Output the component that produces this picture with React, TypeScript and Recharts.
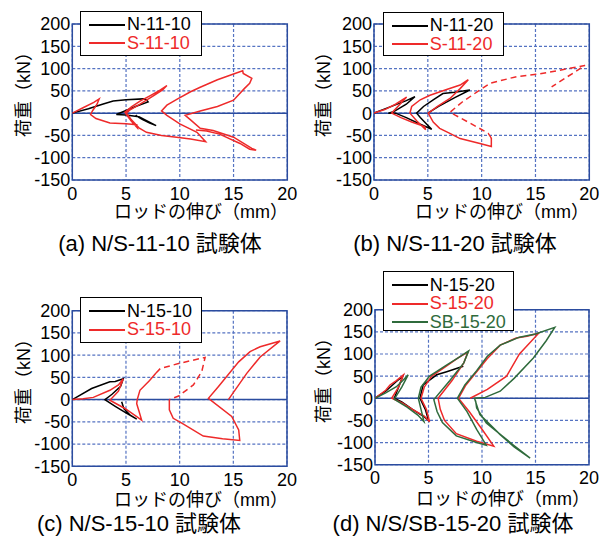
import React from "react";
import {CartesianGrid, Line, LineChart, ReferenceArea, ReferenceLine, XAxis, YAxis} from "recharts";

const FONT = '"Liberation Sans", "Noto Sans CJK JP", Arial, sans-serif';
const RED = "#ee2a2a";
const GREEN = "#2f6b3c";
const BLACK = "#000000";
const FRAME = "#2b4c9f";
const GRID = "#5573c2";

const xTicks = [0, 5, 10, 15, 20];
const yTicks = [-150, -100, -50, 0, 50, 100, 150, 200];
const xTitle = "ロッドの伸び（mm）";
const yTitle = "荷重（kN）";

// (a) N/S-11-10
const aN1110 = [[0, 0], [1.5, 10], [2.8, 20], [3.8, 27], [5, 30], [6.6, 32], [6.9, 30], [7.05, 25], [6, 16], [5, 6], [4.1, -3], [5, -4], [6.2, -8], [7, -18], [7.8, -28], [7.2, -22], [6.5, -14], [6, -7], [5.9, -4]];
const aS1110 = [[0, 0], [1, 12], [2, 24], [2.5, 32], [2.3, 20], [1.9, 6], [1.7, -3], [2.2, -12], [3.5, -22], [5, -24], [6, -26], [6.05, -33], [5.5, -18], [5.05, -4], [4.9, 2], [5.5, 14], [6.3, 27], [7.3, 40], [8.2, 52], [8.8, 62], [8.4, 52], [7.5, 38], [6.3, 20], [5.3, 6], [5.05, 0], [5.5, -15], [6.2, -33], [6.9, -43], [8.3, -50], [9.7, -54], [11, -58], [12.4, -64], [11.6, -43], [10, -24], [8.8, -5], [8.3, 5], [8.8, 18], [9.8, 32], [11, 48], [11.9, 58], [13.5, 75], [15, 88], [15.85, 95], [15.9, 89], [16.7, 78], [16.5, 67], [16, 55], [15, 29], [13.5, 15], [11.9, 5], [10.5, -5], [11, -15], [11.9, -34], [13.1, -39], [15, -54], [16.7, -79], [17.1, -83], [16.5, -81], [15.6, -68], [13.7, -47], [12.5, -40], [11.5, -38]];

// (b) N/S-11-20
const bN1120 = [[0, 0], [1.5, 14], [3, 28], [3.8, 37], [3, 20], [1.8, 3], [1.33, 0], [2, 0], [3, -10], [4.3, -25], [5.36, -36], [4.9, -25], [4.3, -10], [3.96, 0], [4.6, 15], [5.5, 30], [6.4, 44], [7.5, 47], [8.9, 52], [7.5, 35], [6, 15], [5, 0]];
const bS1120 = [[0, 0], [1, 8], [2, 20], [3.03, 36], [2.5, 22], [1.64, 0], [2.5, -10], [3.5, -20], [4.7, -30], [4.8, -37], [4, -18], [3.34, 0], [3.5, 15], [4.3, 30], [5.2, 40], [6.75, 53], [8, 63], [8.76, 75], [8, 55], [7.06, 33], [5.9, 15], [5.04, 0], [5.5, -20], [6.1, -34], [7, -45], [8, -57], [9.84, -68], [10.9, -75], [10.9, -56]];
const bS1120Dash = [[10.9, -56], [10.6, -45], [8.9, -22], [7.5, -4], [7.06, 2], [8.2, 25], [9.84, 52], [10.8, 67], [13.25, 82], [15.4, 88], [19.6, 107], [16.5, 59]];

// (c) N/S-15-10
const cN1510 = [[0, 0], [1.8, 25], [3.5, 40], [4, 41], [4.75, 47], [4.5, 30], [3.7, 12], [3.04, 0], [4, -15], [5, -30], [6, -44], [5.4, -35], [4.8, -20], [4.6, -5]];
const cS1510 = [[0, 0], [1, 2], [1.96, 5], [3.5, 21], [4.3, 33], [4.75, 47], [4.3, 19], [3.5, -1.5], [4.9, -20], [5.8, -35], [6.46, -46], [6.2, -25], [6, -9], [6.05, 0], [6.3, 21], [7.2, 43], [7.8, 60]];
const cS1510Dash = [[7.8, 60], [8.2, 70], [10.04, 82], [12.37, 95], [12.06, 63], [11.28, 33], [9.9, 8], [9.04, 0]];
const cS1510Tail = [[9.04, 0], [9.04, -23], [9.4, -42], [10.2, -53], [12.2, -82], [14, -88], [15.6, -92], [15.5, -68], [14.85, -38], [12.68, 3], [13.6, 29], [15.5, 85], [16.56, 108], [17.5, 119], [19.36, 132], [17.5, 96], [16.25, 59], [14.54, 0]];

// (d) N/S/SB-15-20
const dN1520 = [[0, 0], [1, 16], [2, 38], [2.6, 50], [2.2, 25], [1.8, 0], [2.5, -8], [3.5, -25], [4.6, -42], [5, -50], [4.7, -25], [4.2, 0], [4.5, 30], [5.76, 53], [6.7, 60], [8.1, 71], [8.26, 72]];
const dS1520 = [[0, 0], [1, 18], [1.4, 30], [2, 40], [2.65, 53], [2.2, 25], [1.56, 0], [2.5, -10], [3.5, -25], [4.6, -40], [5.1, -53], [4.8, -25], [4.3, 0], [4.6, 25], [5.3, 50], [6.5, 70], [7.7, 90], [8.7, 105], [8.3, 80], [7.2, 40], [5.9, 0], [6.1, -25], [6.5, -50], [7.6, -80], [9.5, -97], [11.1, -108], [10, -70], [8.8, -30], [7.8, 0], [8.5, 30], [9.5, 60], [10.5, 90], [11.7, 120], [13.2, 136], [14.2, 140], [15.3, 147], [13.5, 100], [12.3, 50], [10.5, 20], [8.9, 0]];
const dSB1520 = [[0, 0], [1, 12], [2, 26], [2.6, 40], [3.1, 53], [2.5, 25], [1.8, -2], [3, -20], [4, -38], [4.58, -53], [4.3, -25], [4.05, 0], [4.3, 25], [5.1, 50], [6.5, 72], [7.8, 92], [8.75, 107], [8.3, 80], [7, 40], [5.5, -3], [5.8, -30], [6.3, -55], [7.6, -85], [9.5, -100], [10.4, -106], [9.5, -70], [8.6, -30], [7.7, 0], [8.4, 30], [9.5, 62], [10.5, 95], [11.7, 120], [13.5, 138], [15, 145], [16.8, 160], [16, 130], [14.8, 91], [13, 45], [11.7, 16], [10.3, 2], [9.3, 0], [9.5, -15], [9.8, -37], [11.7, -82], [13, -110], [14.5, -135], [12.9, -105], [10.4, -56], [9.5, -22], [9.4, -5]];

type Series = {name: string; pts: number[][]; color: string; dashed?: boolean};
type LegendItem = {label: string; color: string};

const toData = (pts: number[][]) => pts.map(([x, y]) => ({x, y}));

interface PanelProps {
    left: number; top: number; width: number; height: number;
    plot: {x0: number; x1: number; y0: number; y1: number};
    series: Series[];
    legend: LegendItem[];
    legendBox: {left: number; top: number; width: number; height: number};
    yLabel: {x: number; y: number};
    xLabel: {x: number; y: number};
    caption: string;
    captionPos: {x: number; y: number};
}

const Panel: React.FunctionComponent<PanelProps> = (p) => {
    const yw = 60;
    const xh = 30;
    const margin = {
        top: p.plot.y0 - p.top,
        left: p.plot.x0 - p.left - yw,
        right: p.left + p.width - p.plot.x1,
        bottom: p.top + p.height - p.plot.y1 - xh,
    };
    return (
        <>
            <div style={{position: "absolute", left: p.left, top: p.top}}>
                <LineChart width={p.width} height={p.height} margin={margin}>
                    <CartesianGrid stroke={GRID} strokeDasharray="3 2" strokeWidth={1.2}/>
                    <XAxis type="number" dataKey="x" domain={[0, 20]} ticks={xTicks} allowDataOverflow interval={0}
                           height={xh} tickLine={false} axisLine={false} tickSize={0} tickMargin={7}
                           tick={{fontSize: 18, fill: "#000", fontFamily: FONT}}/>
                    <YAxis type="number" domain={[-150, 200]} ticks={yTicks} allowDataOverflow interval={0}
                           width={yw} tickLine={false} axisLine={false} tickSize={0} tickMargin={2}
                           tick={{fontSize: 18, fill: "#000", fontFamily: FONT}}/>
                    <ReferenceLine y={0} stroke={FRAME} strokeWidth={1.5}/>
                    <ReferenceArea x1={0} x2={20} y1={-150} y2={200} fill="none" fillOpacity={0} stroke={FRAME} strokeWidth={1.5}/>
                    {p.series.map((s) => (
                        <Line key={s.name} name={s.name} data={toData(s.pts)} dataKey="y" type="linear"
                              stroke={s.color} strokeWidth={1.5} dot={false} activeDot={false}
                              strokeDasharray={s.dashed ? "6 4" : undefined}
                              isAnimationActive={false}/>
                    ))}
                </LineChart>
            </div>
            <div style={{
                position: "absolute", left: p.legendBox.left, top: p.legendBox.top,
                width: p.legendBox.width, height: p.legendBox.height, boxSizing: "border-box",
                border: "1.5px solid #000", background: "#fff", paddingTop: 4,
            }}>
                {p.legend.map((l) => (
                    <div key={l.label} style={{display: "flex", alignItems: "center", height: 18.3}}>
                        <div style={{width: 36, height: 2, background: l.color, marginLeft: 8, marginRight: 2}}/>
                        <span style={{fontFamily: FONT, fontSize: 18, color: l.color, lineHeight: "17px"}}>{l.label}</span>
                    </div>
                ))}
            </div>
            <div style={{
                position: "absolute", left: p.yLabel.x, top: p.yLabel.y, whiteSpace: "nowrap",
                transform: "translate(-50%, -50%) rotate(-90deg)", fontFamily: FONT, fontSize: 18,
            }}>{yTitle}</div>
            <div style={{
                position: "absolute", left: p.xLabel.x, top: p.xLabel.y, whiteSpace: "nowrap",
                transform: "translate(-50%, -50%)", fontFamily: FONT, fontSize: 18,
            }}>{xTitle}</div>
            <div style={{
                position: "absolute", left: p.captionPos.x, top: p.captionPos.y, whiteSpace: "nowrap",
                transform: "translate(-50%, -50%)", fontFamily: FONT, fontSize: 22,
            }}>{p.caption}</div>
        </>
    );
};

const App: React.FunctionComponent = () => {
    return (
        <div style={{position: "absolute", left: 0, top: 0, width: 602, height: 536, background: "#fff", overflow: "hidden"}}>
            <Panel left={0} top={0} width={300} height={260}
                   plot={{x0: 72.3, x1: 287.3, y0: 24, y1: 180}}
                   series={[
                       {name: "N-11-10", pts: aN1110, color: BLACK},
                       {name: "S-11-10", pts: aS1110, color: RED},
                   ]}
                   legend={[{label: "N-11-10", color: BLACK}, {label: "S-11-10", color: RED}]}
                   legendBox={{left: 80, top: 10.7, width: 122, height: 45.5}}
                   yLabel={{x: 22, y: 90}} xLabel={{x: 201, y: 210}}
                   caption="(a) N/S-11-10 試験体" captionPos={{x: 160, y: 241}}/>
            <Panel left={300} top={0} width={302} height={260}
                   plot={{x0: 374, x1: 589.3, y0: 24, y1: 180}}
                   series={[
                       {name: "N-11-20", pts: bN1120, color: BLACK},
                       {name: "S-11-20", pts: bS1120, color: RED},
                       {name: "S-11-20d", pts: bS1120Dash, color: RED, dashed: true},
                   ]}
                   legend={[{label: "N-11-20", color: BLACK}, {label: "S-11-20", color: RED}]}
                   legendBox={{left: 382.7, top: 11.7, width: 121, height: 44.5}}
                   yLabel={{x: 322, y: 90}} xLabel={{x: 502, y: 210}}
                   caption="(b) N/S-11-20 試験体" captionPos={{x: 455, y: 241}}/>
            <Panel left={0} top={268} width={300} height={268}
                   plot={{x0: 72.3, x1: 287, y0: 310.7, y1: 466.3}}
                   series={[
                       {name: "N-15-10", pts: cN1510, color: BLACK},
                       {name: "S-15-10", pts: cS1510, color: RED},
                       {name: "S-15-10d", pts: cS1510Dash, color: RED, dashed: true},
                       {name: "S-15-10t", pts: cS1510Tail, color: RED},
                   ]}
                   legend={[{label: "N-15-10", color: BLACK}, {label: "S-15-10", color: RED}]}
                   legendBox={{left: 80, top: 297.3, width: 122, height: 45.7}}
                   yLabel={{x: 22, y: 377}} xLabel={{x: 201, y: 498}}
                   caption="(c) N/S-15-10 試験体" captionPos={{x: 139, y: 521}}/>
            <Panel left={300} top={268} width={302} height={268}
                   plot={{x0: 375, x1: 589, y0: 309.7, y1: 464.7}}
                   series={[
                       {name: "N-15-20", pts: dN1520, color: BLACK},
                       {name: "S-15-20", pts: dS1520, color: RED},
                       {name: "SB-15-20", pts: dSB1520, color: GREEN},
                   ]}
                   legend={[{label: "N-15-20", color: BLACK}, {label: "S-15-20", color: RED}, {label: "SB-15-20", color: GREEN}]}
                   legendBox={{left: 382.7, top: 271.3, width: 131, height: 60}}
                   yLabel={{x: 322, y: 376}} xLabel={{x: 503, y: 497}}
                   caption="(d) N/S/SB-15-20 試験体" captionPos={{x: 453, y: 521}}/>
        </div>
    );
};

export default App;
